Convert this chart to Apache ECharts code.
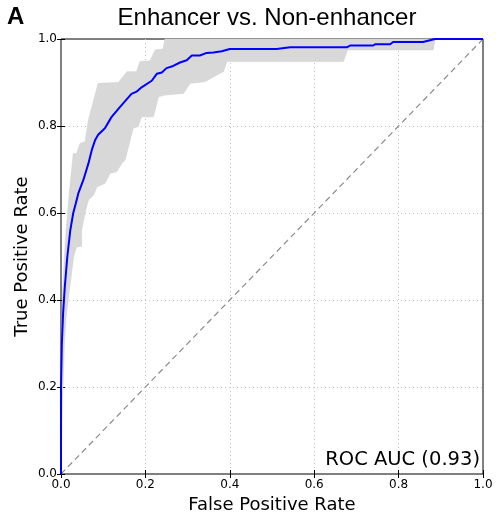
<!DOCTYPE html>
<html>
<head>
<meta charset="utf-8">
<script src="https://cdn.jsdelivr.net/npm/echarts@6/dist/echarts.min.js"></script>
<style>html,body{margin:0;padding:0;background:#fff;}#c{width:496px;height:512px;}</style>
</head>
<body>
<div id="c"></div>
<script>
// Mean ROC curve
const meanFpr = [0,0,0.002,0.005,0.007,0.009,0.015,0.022,0.029,0.035,0.041,0.053,0.065,0.073,0.081,0.088,0.104,0.120,0.140,0.167,0.179,0.191,0.215,0.227,0.239,0.250,0.266,0.282,0.298,0.310,0.329,0.345,0.361,0.381,0.400,0.424,0.511,0.543,0.677,0.685,0.739,0.745,0.780,0.787,0.858,0.886,1.0];
const meanTpr = [0,0.2,0.3,0.37,0.4,0.43,0.5,0.56,0.6,0.622,0.645,0.676,0.714,0.745,0.768,0.780,0.795,0.821,0.844,0.874,0.879,0.889,0.904,0.920,0.923,0.933,0.938,0.946,0.951,0.962,0.962,0.968,0.969,0.972,0.977,0.977,0.977,0.981,0.981,0.985,0.985,0.988,0.988,0.993,0.993,1.0,1.0];
// Upper edge of the band
const upperFpr = [0,0,0.003,0.008,0.012,0.020,0.029,0.037,0.045,0.057,0.065,0.088,0.136,0.156,0.179,0.187,0.211,0.223,0.242,0.246,1.0];
const upperTpr = [0,0.25,0.4,0.5,0.561,0.65,0.737,0.737,0.760,0.764,0.814,0.898,0.900,0.925,0.925,0.948,0.950,0.975,0.977,1.0,1.0];
// Lower edge of the band
const lowerFpr = [0,0.003,0.008,0.012,0.017,0.030,0.037,0.049,0.049,0.057,0.065,0.077,0.085,0.104,0.116,0.132,0.144,0.152,0.171,0.183,0.191,0.219,0.231,0.246,0.290,0.306,0.341,0.377,0.385,0.393,0.669,0.679,0.882,0.887,1.0];
const lowerTpr = [0,0.15,0.3,0.36,0.4,0.5,0.522,0.523,0.561,0.6,0.63,0.641,0.66,0.668,0.691,0.695,0.714,0.722,0.795,0.799,0.821,0.821,0.867,0.871,0.875,0.898,0.902,0.921,0.925,0.948,0.948,0.975,0.975,1.0,1.0];
// Chance diagonal
const diagFpr = [0, 1];
const diagTpr = [0, 1];
const axisTicks = [0, 0.2, 0.4, 0.6, 0.8, 1.0];
const titleText = 'Enhancer vs. Non-enhancer';
const panelLabel = 'A';
const aucText = 'ROC AUC (0.93)';
const xName = 'False Positive Rate';
const yName = 'True Positive Rate';

const zip = (a, b) => a.map((v, i) => [v, b[i]]);
const meanData = zip(meanFpr, meanTpr);
const upperData = zip(upperFpr, upperTpr);
const lowerData = zip(lowerFpr, lowerTpr);
const diagData = zip(diagFpr, diagTpr);

const chart = echarts.init(document.getElementById('c'), null, {renderer: 'canvas'});
const tickFont = {fontFamily: 'DejaVu Sans', fontSize: 12, color: '#000'};
const interval = axisTicks[1] - axisTicks[0];
const gridLine = {show: true, showMinLine: false, showMaxLine: false, lineStyle: {color: '#c4c4c4', type: [1, 3], width: 1}};
const baseAxis = {
  type: 'value', min: axisTicks[0], max: axisTicks[axisTicks.length - 1], interval: interval,
  axisLine: {show: false},
  axisTick: {show: true, inside: true, length: 4, lineStyle: {color: '#000', width: 1}},
  splitLine: {show: false}
};
chart.setOption({
  animation: false,
  grid: {left: 61, top: 39, right: 13, bottom: 38, containLabel: false, outerBoundsMode: 'none',
         show: true, borderColor: '#000', borderWidth: 1, backgroundColor: 'transparent'},
  xAxis: [
    Object.assign({}, baseAxis, {
      position: 'bottom',
      name: xName, nameLocation: 'middle', nameGap: 17,
      nameTextStyle: {fontFamily: 'DejaVu Sans', fontSize: 18, color: '#000'},
      axisLabel: Object.assign({margin: 5, formatter: v => v.toFixed(1)}, tickFont),
      splitLine: gridLine
    }),
    Object.assign({}, baseAxis, {position: 'top', axisLabel: {show: false}})
  ],
  yAxis: [
    Object.assign({}, baseAxis, {
      position: 'left',
      name: yName, nameLocation: 'middle', nameGap: 30, nameMoveOverlap: false,
      nameTextStyle: {fontFamily: 'DejaVu Sans', fontSize: 18, color: '#000'},
      axisLabel: Object.assign({margin: 4, formatter: v => v.toFixed(1)}, tickFont),
      splitLine: gridLine
    }),
    Object.assign({}, baseAxis, {position: 'right', axisLabel: {show: false}})
  ],
  graphic: [
    {type: 'text', left: 7, top: 5, style: {text: panelLabel, fontFamily: 'Liberation Sans', fontWeight: 'bold', fontSize: 24, fill: '#000'}},
    {type: 'text', x: 267, y: 18, style: {text: titleText, fontFamily: 'Liberation Sans', fontSize: 24, fill: '#000', textAlign: 'center', textVerticalAlign: 'middle'}},
    {type: 'text', x: 480, y: 460, z: 10, style: {text: aucText, fontFamily: 'DejaVu Sans', fontSize: 19.5, fill: '#000', textAlign: 'right', textVerticalAlign: 'middle'}}
  ],
  series: [
    {
      type: 'custom', xAxisIndex: 0, yAxisIndex: 0, z: 1, silent: true,
      data: [[0, 0]],
      renderItem: function (params, api) {
        const pts = upperData.map(p => api.coord(p)).concat(lowerData.slice().reverse().map(p => api.coord(p)));
        return {type: 'polygon', shape: {points: pts}, style: {fill: '#d8d8d8', stroke: '#cfcfcf', lineWidth: 0.5}};
      }
    },
    {
      type: 'line', xAxisIndex: 0, yAxisIndex: 0, z: 2, data: diagData, symbol: 'none', silent: true,
      lineStyle: {color: '#8a8a8a', width: 1.2, type: [6, 4]}
    },
    {
      type: 'line', xAxisIndex: 0, yAxisIndex: 0, z: 3, data: meanData, symbol: 'none', silent: true,
      lineStyle: {color: '#0000ff', width: 2}
    }
  ]
});
</script>
</body>
</html>
